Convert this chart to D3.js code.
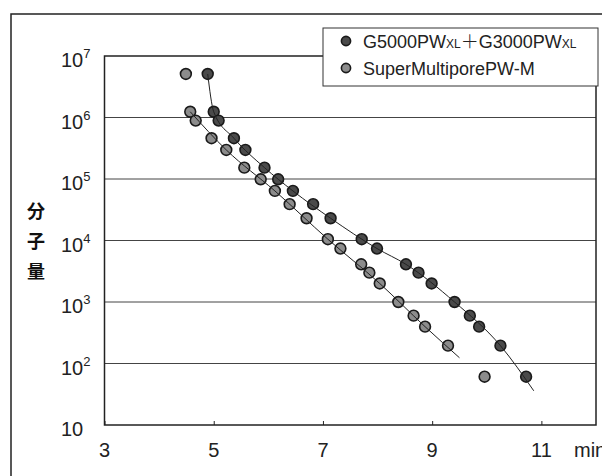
<!DOCTYPE html>
<html>
<head>
<meta charset="utf-8">
<script src="https://cdn.jsdelivr.net/npm/d3@7"></script>
<style>
  body { margin: 0; background: #fff; }
  svg { display: block; }
</style>
</head>
<body>
<div id="main-container"></div>
<script>
var width = 602,
    height = 476

// molecular weight of the standards (same set on both columns)
var mw = [5.1e6, 1.24e6, 8.9e5, 4.6e5, 2.97e5, 1.53e5, 9.9e4, 6.4e4, 3.9e4, 2.3e4,
          1.05e4, 7.4e3, 4.1e3, 3.0e3, 2.0e3, 1.0e3, 600, 397, 195, 61]

// elution time, min
var rtG5000 = [4.89, 5.00, 5.09, 5.37, 5.58, 5.93, 6.18, 6.45, 6.82, 7.14,
               7.71, 7.99, 8.52, 8.75, 8.99, 9.41, 9.69, 9.86, 10.25, 10.72]
var rtSuper = [4.49, 4.57, 4.67, 4.96, 5.23, 5.56, 5.86, 6.12, 6.39, 6.70,
               7.09, 7.32, 7.70, 7.85, 8.04, 8.38, 8.66, 8.87, 9.29, 9.96]

// calibration curves as drawn
var fitG5000 = [[4.89, 5.1e6], [5.00, 1.24e6], [5.37, 4.6e5], [5.93, 1.53e5], [6.45, 6.4e4],
                [7.14, 2.3e4], [7.99, 7.4e3], [8.52, 4.1e3], [9.41, 1.0e3], [10.25, 195], [10.86, 36]]
var fitSuper = [[4.57, 1.24e6], [5.23, 2.97e5], [6.12, 6.4e4], [7.09, 1.05e4],
                [8.04, 2.0e3], [8.87, 397], [9.50, 124]]

var xTicks = [3, 5, 7, 9, 11]
var yTicks = [10, 1e2, 1e3, 1e4, 1e5, 1e6, 1e7]

var seriesNames = ["G5000PW", "SuperMultiporePW-M"]
var seriesFill = ["#4a4a4a", "#8c8c8c"]

var svg = d3.select("#main-container").append("svg")
  .attr("width", width)
  .attr("height", height)
  .style("font-family", "'Liberation Sans', Arial, sans-serif")

var x = d3.scaleLinear()
  .domain([3, 12])
  .range([104.5, 596])

var y = d3.scaleLog()
  .domain([10, 1e7])
  .range([425, 56])

// outer frame (runs off the right and bottom edge)
svg.append("rect")
  .attr("x", 11).attr("y", 14)
  .attr("width", 620).attr("height", 500)
  .attr("fill", "none")
  .attr("stroke", "#222")
  .attr("stroke-width", 1.5)

// grid
svg.append("g").selectAll("line")
  .data(yTicks.slice(1, -1))
  .enter().append("line")
    .attr("x1", x(3)).attr("x2", x(12))
    .attr("y1", function(d){ return y(d) }).attr("y2", function(d){ return y(d) })
    .attr("stroke", "#444")
    .attr("stroke-width", 1)

// x axis with inner ticks
var xAxis = svg.append("g")
  .attr("transform", "translate(0," + y(10) + ")")
  .call(d3.axisBottom(x).tickValues(xTicks).tickSize(-4).tickFormat(""))
xAxis.select(".domain").remove()
xAxis.selectAll("line").attr("stroke", "#222")

svg.append("rect")
  .attr("x", x(3)).attr("y", y(1e7))
  .attr("width", x(12) - x(3)).attr("height", y(10) - y(1e7))
  .attr("fill", "none")
  .attr("stroke", "#222")
  .attr("stroke-width", 1.5)

svg.append("g").selectAll("text")
  .data(xTicks)
  .enter().append("text")
    .attr("x", function(d){ return x(d) })
    .attr("y", 457)
    .attr("text-anchor", "middle")
    .attr("font-size", 20)
    .attr("fill", "#222")
    .text(function(d){ return d })

svg.append("text")
  .attr("x", 574).attr("y", 457)
  .attr("font-size", 20)
  .attr("fill", "#222")
  .text("min")

var yLab = svg.append("g").selectAll("text")
  .data(yTicks)
  .enter().append("text")
    .attr("x", 61)
    .attr("y", function(d){ return y(d) + 11 })
    .attr("font-size", 20)
    .attr("fill", "#222")
yLab.append("tspan").text("10")
yLab.filter(function(d){ return d > 10 }).append("tspan")
  .attr("dy", -9)
  .attr("font-size", 13)
  .text(function(d){ return Math.round(Math.log10(d)) })

svg.append("g").selectAll("text")
  .data(["分", "子", "量"])
  .enter().append("text")
    .attr("x", 36)
    .attr("y", function(d, i){ return 218 + i * 30 })
    .attr("text-anchor", "middle")
    .attr("font-family", "'Noto Sans CJK JP', sans-serif")
    .attr("font-weight", "bold")
    .attr("font-size", 18)
    .attr("fill", "#111")
    .text(function(d){ return d })

// points
var series = [rtG5000, rtSuper]
series.forEach(function(rt, k){
  svg.append("g").selectAll("circle")
    .data(rt)
    .enter().append("circle")
      .attr("cx", function(d){ return x(d) })
      .attr("cy", function(d, i){ return y(mw[i]) })
      .attr("r", 5.4)
      .attr("fill", seriesFill[k])
      .attr("stroke", "#1a1a1a")
      .attr("stroke-width", 1.6)
})

// fitted lines over the points
var line = d3.line()
  .x(function(d){ return x(d[0]) })
  .y(function(d){ return y(d[1]) })
  .curve(d3.curveMonotoneX)

;[fitG5000, fitSuper].forEach(function(f){
  svg.append("path")
    .attr("d", line(f))
    .attr("fill", "none")
    .attr("stroke", "#222")
    .attr("stroke-width", 1)
})

// legend
var legend = svg.append("g")
legend.append("rect")
  .attr("x", 323).attr("y", 28)
  .attr("width", 275).attr("height", 58)
  .attr("fill", "#fff")
  .attr("stroke", "#333")
  .attr("stroke-width", 1)

legend.selectAll("circle")
  .data(seriesFill)
  .enter().append("circle")
    .attr("cx", 346)
    .attr("cy", function(d, i){ return 41 + i * 27 })
    .attr("r", 4.6)
    .attr("fill", function(d){ return d })
    .attr("stroke", "#1a1a1a")
    .attr("stroke-width", 1.6)

var t1 = legend.append("text")
  .attr("x", 363).attr("y", 47.5)
  .attr("font-size", 18)
  .attr("fill", "#222")
t1.append("tspan").text(seriesNames[0])
t1.append("tspan").attr("font-size", 12).text("XL")
t1.append("tspan").attr("font-family", "'Noto Sans CJK JP', sans-serif").attr("font-weight", 300).text("＋")
t1.append("tspan").text("G3000PW")
t1.append("tspan").attr("font-size", 12).text("XL")

legend.append("text")
  .attr("x", 363).attr("y", 74.5)
  .attr("font-size", 18)
  .attr("fill", "#222")
  .text(seriesNames[1])
</script>
</body>
</html>
